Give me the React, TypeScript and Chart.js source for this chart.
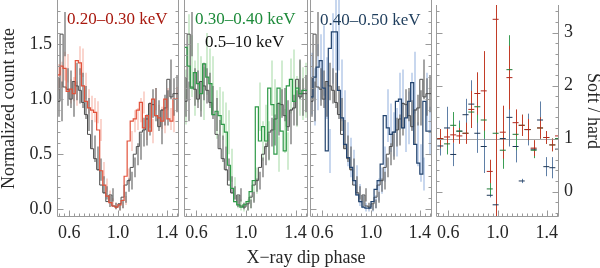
import React, { useEffect, useRef } from "react";
import { Chart, registerables } from "chart.js";

Chart.register(...registerables);

const SERIF = '"Liberation Serif", "Times New Roman", Times, serif';
const TEXT = "#262626";
const FRAME = "#9a9a9a";

// ---------------- data ----------------
const BIN_LEFT = [0.5, 0.525, 0.55, 0.575, 0.6, 0.625, 0.65, 0.675, 0.7, 0.725, 0.75, 0.775, 0.8, 0.825, 0.85, 0.875, 0.9, 0.925, 0.95, 0.975, 1.0, 1.025, 1.05, 1.075, 1.1, 1.125, 1.15, 1.175, 1.2, 1.225, 1.25, 1.275, 1.3, 1.325, 1.35, 1.375, 1.4, 1.425, 1.45, 1.475];
const BIN_WIDTH = 0.025;

// 0.5–10 keV reference curve (gray)
const GRAY = [1.02, 0.98, 1.59, 1.11, 1.09, 1.0, 1.16, 1.12, 1.08, 0.97, 0.86, 0.68, 0.55, 0.46, 0.36, 0.22, 0.15, 0.07, 0.13, 0.03, 0.02, 0.05, 0.11, 0.22, 0.26, 0.38, 0.5, 0.57, 0.7, 0.72, 0.82, 0.96, 0.95, 0.85, 0.75, 0.9, 0.92, 1.18, 1.02, 1.05];
const GRAY_ERR = [0.18, 0.18, 0.2, 0.17, 0.17, 0.16, 0.17, 0.16, 0.16, 0.15, 0.15, 0.13, 0.12, 0.11, 0.1, 0.08, 0.06, 0.05, 0.06, 0.03, 0.03, 0.04, 0.05, 0.06, 0.08, 0.09, 0.1, 0.12, 0.13, 0.14, 0.15, 0.13, 0.15, 0.14, 0.16, 0.14, 0.16, 0.18, 0.17, 0.17];

// 0.20–0.30 keV
const SOFT1 = [1.2, 1.22, 1.3, 1.28, 1.07, 1.09, 1.05, 1.35, 1.33, 1.12, 0.98, 0.92, 0.9, 0.88, 0.72, 0.35, 0.22, 0.12, 0.06, 0.03, 0.02, 0.04, 0.08, 0.3, 0.62, 0.8, 0.82, 0.9, 0.97, 0.74, 0.85, 0.71, 1.0, 0.85, 0.83, 0.8, 1.0, 0.82, 0.8, 1.0];
const SOFT1_ERR = [0.12, 0.12, 0.13, 0.13, 0.11, 0.11, 0.11, 0.13, 0.13, 0.12, 0.11, 0.11, 0.11, 0.1, 0.1, 0.08, 0.06, 0.05, 0.04, 0.03, 0.03, 0.03, 0.04, 0.07, 0.09, 0.1, 0.1, 0.11, 0.1, 0.11, 0.11, 0.11, 0.1, 0.1, 0.1, 0.11, 0.1, 0.1, 0.1, 0.11];

// 0.30–0.40 keV
const SOFT2 = [1.02, 1.47, 1.3, 1.1, 1.24, 1.14, 1.05, 1.32, 1.2, 1.14, 0.86, 0.89, 0.85, 0.77, 0.7, 0.4, 0.19, 0.07, 0.04, 0.02, 0.04, 0.07, 0.16, 0.26, 0.93, 0.62, 0.75, 0.62, 1.1, 0.95, 0.5, 1.1, 0.71, 0.53, 1.12, 1.18, 0.98, 1.1, 1.05, 1.08];
const SOFT2_ERR = [0.25, 0.3, 0.28, 0.25, 0.27, 0.25, 0.24, 0.28, 0.26, 0.25, 0.22, 0.22, 0.22, 0.2, 0.2, 0.15, 0.1, 0.06, 0.05, 0.04, 0.05, 0.06, 0.09, 0.12, 0.22, 0.18, 0.2, 0.18, 0.25, 0.23, 0.16, 0.25, 0.2, 0.17, 0.25, 0.27, 0.23, 0.25, 0.24, 0.25];

// 0.40–0.50 keV
const SOFT3 = [1.14, 1.02, 1.2, 1.29, 1.35, 1.1, 0.53, 1.46, 1.61, 1.61, 1.08, 0.83, 0.59, 0.47, 0.38, 0.26, 0.13, 0.07, 0.02, 0.01, 0.01, 0.07, 0.18, 0.26, 0.41, 0.85, 0.74, 0.68, 0.7, 0.98, 1.0, 0.74, 0.83, 0.98, 1.15, 0.59, 0.42, 0.32, 0.98, 0.71];
const SOFT3_ERR = [0.28, 0.26, 0.3, 0.3, 0.32, 0.28, 0.2, 0.32, 0.35, 0.35, 0.28, 0.25, 0.2, 0.18, 0.16, 0.14, 0.1, 0.06, 0.04, 0.03, 0.03, 0.06, 0.1, 0.12, 0.16, 0.24, 0.22, 0.2, 0.22, 0.26, 0.27, 0.22, 0.24, 0.26, 0.28, 0.2, 0.17, 0.15, 0.26, 0.22];

// Soft / hard ratios
const RATIO_PHASE = [0.535, 0.59, 0.64, 0.69, 0.74, 0.787, 0.836, 0.888, 0.937, 0.985, 1.043, 1.097, 1.147, 1.197, 1.245, 1.294, 1.346, 1.397, 1.446, 1.492];
const RATIO_RED = [1.0, 1.03, 1.07, 1.05, 1.1, 1.55, 1.85, 1.9, 0.38, 3.25, 1.12, 2.15, 1.3, 1.25, 1.17, 0.82, 1.2, 1.02, 0.88, 1.05];
const RATIO_RED_ERR = [0.18, 0.15, 0.15, 0.15, 0.2, 0.35, 0.4, 0.75, 0.22, 4.0, 0.5, 0.6, 0.25, 0.2, 0.2, 0.15, 0.2, 0.12, 0.12, 0.15];
const RATIO_GREEN = [1.0, 0.9, 1.25, 1.14, 1.1, 1.5, 1.6, 1.35, 0.05, 1.1, 0.78, 2.3, 1.08, 1.25, 1.17, 0.78, 1.2, 1.02, 0.88, 1.0];
const RATIO_GREEN_ERR = [0.12, 0.2, 0.25, 0.15, 0.15, 0.3, 0.3, 0.35, 0.12, 1.4, 0.35, 0.65, 0.3, 0.2, 0.2, 0.15, 0.2, 0.12, 0.12, 0.15];
const RATIO_BLUE = [0.86, 1.2, 0.7, 1.14, 1.45, 1.65, 1.1, 0.85, -0.07, -0.25, 1.0, 1.4, 0.85, 0.2, 1.17, 0.8, 1.35, 0.47, 0.45, 0.8];
const RATIO_BLUE_ERR = [0.18, 0.4, 0.22, 0.2, 0.3, 0.45, 0.37, 0.5, 0.04, 3.0, 0.3, 0.55, 0.3, 0.04, 0.3, 0.15, 0.35, 0.18, 0.2, 0.2];

// ticks
const X_TICKS = [0.6, 1.0, 1.4];
const Y_TICKS_RATE = [0.0, 0.5, 1.0, 1.5];
const Y_TICKS_RATIO = [0, 1, 2, 3];

const BAND_LABELS = ["0.20–0.30 keV", "0.30–0.40 keV", "0.40–0.50 keV"];
const HARD_LABEL = "0.5–10 keV";

// ---------------- helpers ----------------
const range = (a: number, b: number, step: number) => {
  const out: number[] = [];
  for (let v = a; v <= b + 1e-9; v += step) out.push(Math.round(v * 1000) / 1000);
  return out;
};
const X_MINOR = range(0.52, 1.48, 0.04);
const Y_MINOR_RATE = range(0, 1.8, 0.1);
const Y_MINOR_RATIO = range(-0.4, 3.4, 0.2);

const stepData = (vals: number[]) => {
  const pts = BIN_LEFT.map((x, i) => ({ x, y: vals[i] }));
  pts.push({ x: BIN_LEFT[BIN_LEFT.length - 1] + BIN_WIDTH, y: vals[vals.length - 1] });
  return pts;
};
const centers = BIN_LEFT.map((x) => x + BIN_WIDTH / 2);

type ErrSet = { xs: number[]; vals: number[]; errs: number[]; color: string; width: number };

const errPlugin = (sets: ErrSet[], refLine?: number) => ({
  id: "errbars",
  beforeDatasetsDraw(chart: any) {
    const { ctx, chartArea: a, scales } = chart;
    const x = scales.x, y = scales.y;
    ctx.save();
    ctx.beginPath();
    ctx.rect(a.left, a.top, a.right - a.left, a.bottom - a.top);
    ctx.clip();
    if (refLine !== undefined) {
      const py = Math.round(y.getPixelForValue(refLine)) + 0.5;
      ctx.strokeStyle = "#a8a8a8";
      ctx.lineWidth = 1;
      ctx.beginPath();
      ctx.moveTo(a.left, py);
      ctx.lineTo(a.right, py);
      ctx.stroke();
    }
    for (const s of sets) {
      ctx.strokeStyle = s.color;
      ctx.lineWidth = s.width;
      ctx.beginPath();
      s.xs.forEach((c, i) => {
        const px = Math.round(x.getPixelForValue(c)) + (s.width % 2 === 1 ? 0.5 : 0);
        ctx.moveTo(px, y.getPixelForValue(s.vals[i] - s.errs[i]));
        ctx.lineTo(px, y.getPixelForValue(s.vals[i] + s.errs[i]));
      });
      ctx.stroke();
    }
    ctx.restore();
  },
});

const near = (v: number, list: number[]) => list.some((t) => Math.abs(t - v) < 1e-6);

const framePlugin = (yMinor: number[], yMajor: number[]) => ({
  id: "frame",
  afterDatasetsDraw(chart: any) {
    const { ctx, chartArea: a, scales } = chart;
    const x = scales.x, y = scales.y;
    const L = Math.round(a.left) + 0.5;
    const R = Math.round(a.right) - 0.5;
    const B = Math.round(a.bottom) - 0.5;
    ctx.save();
    ctx.strokeStyle = FRAME;
    ctx.lineWidth = 1;
    ctx.beginPath();
    ctx.moveTo(L, a.top);
    ctx.lineTo(L, B);
    ctx.lineTo(R, B);
    ctx.lineTo(R, a.top);
    for (const v of X_MINOR) {
      const p = Math.round(x.getPixelForValue(v)) + 0.5;
      const len = near(v, X_TICKS) ? 6 : 3;
      ctx.moveTo(p, B);
      ctx.lineTo(p, B - len);
    }
    for (const v of yMinor) {
      const p = Math.round(y.getPixelForValue(v)) + 0.5;
      if (p < a.top || p > a.bottom) continue;
      const len = near(v, yMajor) ? 6 : 3;
      ctx.moveTo(L, p);
      ctx.lineTo(L + len, p);
      ctx.moveTo(R, p);
      ctx.lineTo(R - len, p);
    }
    ctx.stroke();
    ctx.restore();
  },
});

const tickFont = { family: SERIF, size: 18 };

const noPad = (s: any) => {
  s.paddingTop = 0;
  s.paddingBottom = 0;
  s.paddingLeft = 0;
  s.paddingRight = 0;
};

const xScale = () => ({
  type: "linear" as const,
  min: 0.5,
  max: 1.5,
  grid: { display: false, drawTicks: false },
  border: { display: false },
  afterBuildTicks: (s: any) => {
    s.ticks = X_TICKS.map((value) => ({ value }));
  },
  afterFit: (s: any) => {
    s.height = 51;
    noPad(s);
  },
  ticks: {
    font: tickFont,
    color: TEXT,
    padding: 5,
    maxRotation: 0,
    autoSkip: false,
    callback: (v: any) => Number(v).toFixed(1),
  },
});

type RatePanel = {
  left: number;
  right: number;
  vals: number[];
  errs: number[];
  line: string;
  errColor: string;
  showY: boolean;
};

const RATE_PANELS: RatePanel[] = [
  { left: 57, right: 179, vals: SOFT1, errs: SOFT1_ERR, line: "#e2513a", errColor: "rgba(240,130,110,0.45)", showY: true },
  { left: 184, right: 308, vals: SOFT2, errs: SOFT2_ERR, line: "#2e9a48", errColor: "rgba(120,200,120,0.45)", showY: false },
  { left: 310, right: 432, vals: SOFT3, errs: SOFT3_ERR, line: "#23446f", errColor: "rgba(110,150,210,0.5)", showY: false },
];

function makeRateChart(canvas: HTMLCanvasElement, p: RatePanel) {
  const yAxis: any = {
    type: "linear",
    min: -0.07,
    max: 1.9,
    position: "left",
    display: p.showY,
    grid: { display: false, drawTicks: false },
    border: { display: false },
    afterBuildTicks: (s: any) => {
      s.ticks = Y_TICKS_RATE.map((value) => ({ value }));
    },
    afterFit: (s: any) => {
      s.width = p.showY ? p.left : 0;
      noPad(s);
    },
    ticks: { font: tickFont, color: TEXT, padding: 5, callback: (v: any) => Number(v).toFixed(1) },
    title: {
      display: p.showY,
      text: "Normalized count rate",
      font: { family: SERIF, size: 18, lineHeight: 1 },
      color: TEXT,
      padding: { top: 0, bottom: 0 },
    },
  };
  return new Chart(canvas, {
    type: "line",
    data: {
      datasets: [
        { data: stepData(p.vals), borderColor: p.line, borderWidth: 1.2, stepped: "after", pointRadius: 0, fill: false },
        { data: stepData(GRAY), borderColor: "#4d4d4d", borderWidth: 1, stepped: "after", pointRadius: 0, fill: false },
      ],
    },
    options: {
      responsive: false,
      animation: false,
      events: [],
      layout: { padding: { left: p.showY ? 0 : p.left, right: 600 - p.right, top: 0, bottom: 0 } },
      scales: { x: xScale() as any, y: yAxis },
      plugins: { legend: { display: false }, tooltip: { enabled: false } },
    },
    plugins: [
      errPlugin([
        { xs: centers, vals: p.vals, errs: p.errs, color: p.errColor, width: 1.5 },
        { xs: centers, vals: GRAY, errs: GRAY_ERR, color: "rgba(105,105,105,0.6)", width: 2 },
      ]),
      framePlugin(Y_MINOR_RATE, Y_TICKS_RATE),
    ],
  } as any);
}

function makeRatioChart(canvas: HTMLCanvasElement) {
  const pts = (vals: number[]) => RATIO_PHASE.map((x, i) => ({ x, y: vals[i] }));
  const ds = (vals: number[], color: string) => ({
    data: pts(vals),
    showLine: false,
    pointStyle: "line",
    pointRadius: 3,
    pointBorderWidth: 1,
    borderColor: color,
    pointBorderColor: color,
    backgroundColor: color,
  });
  return new Chart(canvas, {
    type: "scatter",
    data: {
      datasets: [ds(RATIO_RED, "#b0281c"), ds(RATIO_GREEN, "#1f7a36"), ds(RATIO_BLUE, "#1d3656")],
    },
    options: {
      responsive: false,
      animation: false,
      events: [],
      layout: { padding: { left: 436, right: 0, top: 0, bottom: 0 } },
      scales: {
        x: xScale() as any,
        y: {
          type: "linear",
          min: -0.48,
          max: 3.52,
          position: "right",
          grid: { display: false, drawTicks: false },
          border: { display: false },
          afterBuildTicks: (s: any) => {
            s.ticks = Y_TICKS_RATIO.map((value) => ({ value }));
          },
          afterFit: (s: any) => {
            s.width = 41;
            noPad(s);
          },
          ticks: { font: tickFont, color: TEXT, padding: 5, callback: (v: any) => String(v) },
          title: {
            display: true,
            text: "Soft / hard",
            font: { family: SERIF, size: 18, lineHeight: 1 },
            color: TEXT,
            padding: { top: -2, bottom: 0 },
          },
        } as any,
      },
      plugins: { legend: { display: false }, tooltip: { enabled: false } },
    },
    plugins: [
      errPlugin(
        [
          { xs: RATIO_PHASE, vals: RATIO_BLUE, errs: RATIO_BLUE_ERR, color: "#5f7fa6", width: 1 },
          { xs: RATIO_PHASE, vals: RATIO_GREEN, errs: RATIO_GREEN_ERR, color: "#3c9e55", width: 1 },
          { xs: RATIO_PHASE, vals: RATIO_RED, errs: RATIO_RED_ERR, color: "#c23d28", width: 1 },
        ],
        1
      ),
      framePlugin(Y_MINOR_RATIO, Y_TICKS_RATIO),
    ],
  } as any);
}

function Canvas({ make }: { make: (c: HTMLCanvasElement) => Chart }) {
  const ref = useRef<HTMLCanvasElement | null>(null);
  useEffect(() => {
    if (!ref.current) return;
    const ch = make(ref.current);
    return () => ch.destroy();
  }, []);
  return <canvas ref={ref} width={600} height={268} style={{ position: "absolute", left: 0, top: 0, width: 600, height: 268 }} />;
}

const label = (text: string, left: number, top: number, color: string) => (
  <div
    style={{
      position: "absolute",
      left,
      top,
      fontFamily: SERIF,
      fontSize: 17,
      lineHeight: "17px",
      color,
      whiteSpace: "nowrap",
    }}
  >
    {text}
  </div>
);

export default function App() {
  return (
    <div style={{ position: "fixed", left: 0, top: 0, width: 600, height: 268, background: "#fff", overflow: "hidden" }}>
      {RATE_PANELS.map((p, i) => (
        <Canvas key={i} make={(c) => makeRateChart(c, p)} />
      ))}
      <Canvas make={makeRatioChart} />
      {label(BAND_LABELS[0], 67, 10, "#a8190f")}
      {label(BAND_LABELS[1], 195, 10, "#1d8a3a")}
      {label(HARD_LABEL, 205, 33, "#111")}
      {label(BAND_LABELS[2], 320, 11, "#1e3d5c")}
      <div
        style={{
          position: "absolute",
          left: 306,
          top: 248,
          transform: "translateX(-50%)",
          fontFamily: SERIF,
          fontSize: 18,
          lineHeight: "18px",
          color: TEXT,
          whiteSpace: "nowrap",
        }}
      >
        X−ray dip phase
      </div>
    </div>
  );
}
